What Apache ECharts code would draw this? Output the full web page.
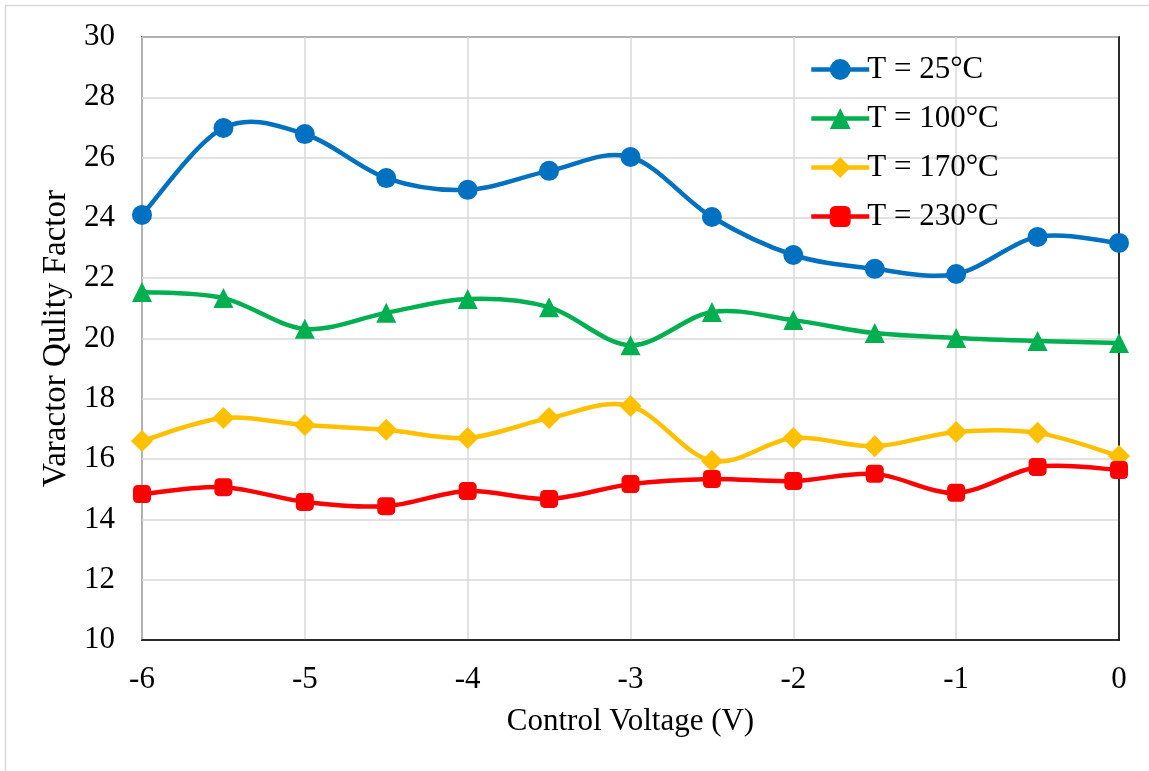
<!DOCTYPE html>
<html>
<head>
<meta charset="utf-8">
<script src="https://cdn.jsdelivr.net/npm/echarts@6/dist/echarts.min.js"></script>
<style>
  html, body { margin: 0; padding: 0; background: #fff; }
  #chart { width: 1149px; height: 771px; }
</style>
</head>
<body>
<div id="chart"></div>
<script>
// Control voltage sweep (V)
const voltages = [-6, -5.5, -5, -4.5, -4, -3.5, -3, -2.5, -2, -1.5, -1, -0.5, 0];

// Varactor quality factor at each temperature
const q25 = [24.10, 26.98, 26.78, 25.32, 24.93, 25.56, 26.02, 24.03, 22.77, 22.31, 22.14, 23.37, 23.17];
const q100 = [21.54, 21.34, 20.32, 20.85, 21.31, 21.04, 19.78, 20.88, 20.61, 20.18, 20.02, 19.92, 19.85];
const q170 = [16.60, 17.36, 17.13, 16.97, 16.70, 17.36, 17.76, 15.94, 16.70, 16.43, 16.90, 16.87, 16.10];
const q230 = [14.84, 15.07, 14.58, 14.44, 14.94, 14.68, 15.17, 15.34, 15.27, 15.51, 14.88, 15.74, 15.64];

const seriesNames = ['T = 25°C', 'T = 100°C', 'T = 170°C', 'T = 230°C'];
const seriesColors = ['#0070C0', '#00B050', '#FFC000', '#FF0000'];
const seriesSymbols = ['circle', 'triangle', 'diamond', 'roundRect'];
const seriesSymbolSizes = [20, 20, 22, 18];
const seriesValues = [q25, q100, q170, q230];

const FONT = '"Liberation Serif", "Times New Roman", serif';
const FS = 31;
const LINE_W = 4.5;
const TENSION = 1 / 6; // Catmull-Rom style cubic smoothing

function pairs(ys) { return voltages.map((v, i) => [v, ys[i]]); }

// Smoothed curve through all points, built from pixel coords given by the axes.
function curveRenderer(ys, color) {
  return function (params, api) {
    if (params.dataIndex !== 0) return null;
    const pts = voltages.map((v, i) => api.coord([v, ys[i]]));
    const n = pts.length;
    let d = 'M' + pts[0][0] + ' ' + pts[0][1];
    for (let i = 0; i < n - 1; i++) {
      const p0 = pts[Math.max(i - 1, 0)];
      const p1 = pts[i];
      const p2 = pts[i + 1];
      const p3 = pts[Math.min(i + 2, n - 1)];
      const c1x = p1[0] + (p2[0] - p0[0]) * TENSION;
      const c1y = p1[1] + (p2[1] - p0[1]) * TENSION;
      const c2x = p2[0] - (p3[0] - p1[0]) * TENSION;
      const c2y = p2[1] - (p3[1] - p1[1]) * TENSION;
      d += ' C' + c1x + ' ' + c1y + ' ' + c2x + ' ' + c2y + ' ' + p2[0] + ' ' + p2[1];
    }
    return {
      type: 'path',
      shape: { pathData: d },
      style: { fill: 'none', stroke: color, lineWidth: LINE_W, lineJoin: 'round', lineCap: 'round' },
      silent: true
    };
  };
}

const series = [];
seriesNames.forEach((name, k) => {
  // markers (legend icon comes from this series)
  series.push({
    name: name,
    type: 'line',
    data: pairs(seriesValues[k]),
    symbol: seriesSymbols[k],
    symbolSize: seriesSymbolSizes[k],
    lineStyle: { color: seriesColors[k], width: LINE_W, opacity: 0 },
    itemStyle: { color: seriesColors[k], borderWidth: 0 },
    emphasis: { disabled: true },
    z: 4 + k * 2
  });
});
seriesNames.forEach((name, k) => {
  series.push({
    name: name,
    type: 'custom',
    data: pairs(seriesValues[k]),
    renderItem: curveRenderer(seriesValues[k], seriesColors[k]),
    clip: false,
    z: 3 + k * 2
  });
});

const chart = echarts.init(document.getElementById('chart'), null, { renderer: 'canvas' });

chart.setOption({
  animation: false,
  backgroundColor: '#ffffff',
  graphic: [{
    type: 'rect',
    shape: { x: 5.5, y: 5.5, width: 1200, height: 800 },
    style: { fill: 'none', stroke: '#d9d9d9', lineWidth: 1.5 },
    silent: true,
    z: -10
  }],
  grid: {
    left: 142, right: 30, top: 37, bottom: 131,
    show: true,
    borderColor: '#000',
    borderWidth: 1.5,
    backgroundColor: 'transparent'
  },
  legend: {
    orient: 'vertical',
    left: 804,
    top: 49,
    itemWidth: 58,
    itemHeight: 26,
    itemGap: 18,
    textStyle: { fontFamily: FONT, fontSize: FS, color: '#000', padding: [0, 0, 0, -7] },
    data: seriesNames.map((name, k) => ({
      name: name,
      lineStyle: { color: seriesColors[k], width: LINE_W, opacity: 1 }
    }))
  },
  xAxis: {
    type: 'value',
    min: -6, max: 0, interval: 1,
    name: 'Control Voltage (V)',
    nameLocation: 'middle',
    nameGap: 66,
    nameTextStyle: { fontFamily: FONT, fontSize: FS, color: '#000' },
    axisLine: { show: true, onZero: false, lineStyle: { color: '#000', width: 1.5 } },
    axisTick: { show: false },
    axisLabel: { fontFamily: FONT, fontSize: FS, color: '#000', margin: 24 },
    splitLine: { show: true, lineStyle: { color: '#d9d9d9', width: 1.5 } }
  },
  yAxis: {
    type: 'value',
    min: 10, max: 30, interval: 2,
    name: 'Varactor Qulity Factor',
    nameLocation: 'middle',
    nameGap: 66,
    nameTextStyle: { fontFamily: FONT, fontSize: 33, color: '#000' },
    axisLine: { show: true, lineStyle: { color: '#000', width: 1.5 } },
    axisTick: { show: false },
    axisLabel: { fontFamily: FONT, fontSize: FS, color: '#000', margin: 27 },
    splitLine: { show: true, lineStyle: { color: '#d9d9d9', width: 1.5 } }
  },
  series: series
});
</script>
</body>
</html>
